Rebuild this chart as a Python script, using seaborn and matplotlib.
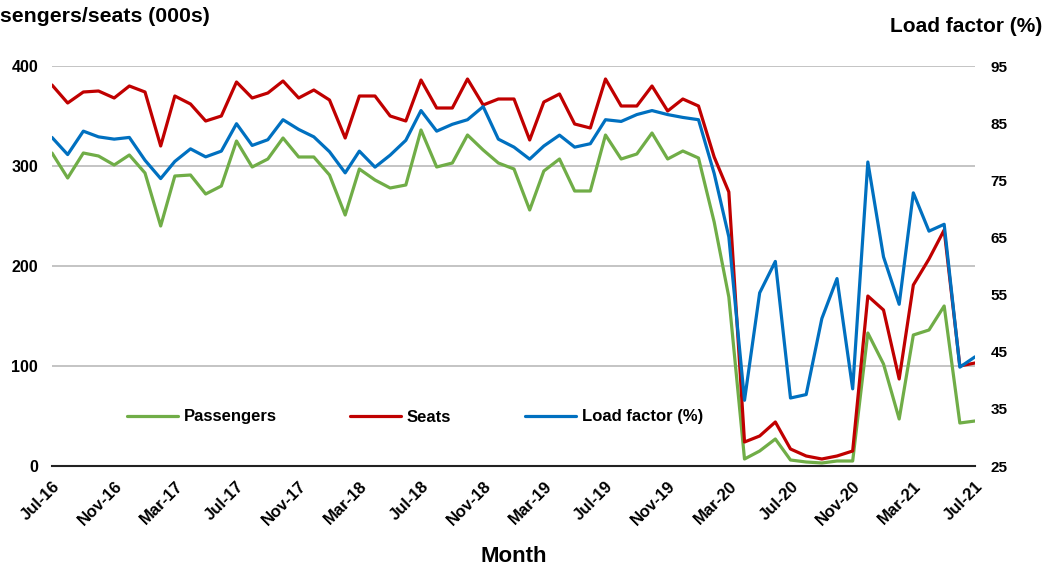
import pandas as pd
import matplotlib
matplotlib.use("Agg")
import matplotlib.pyplot as plt
import matplotlib.dates as mdates
import seaborn as sns

# --- data ---
months = pd.date_range("2016-07-01", "2021-07-01", freq="MS")

passengers = [313, 288, 313, 310, 301, 311, 293, 240, 290, 291, 272, 280,
              325, 299, 307, 328, 309, 309, 291, 251, 297, 286, 278, 281,
              336, 299, 303, 331, 316, 303, 297, 256, 295, 307, 275, 275,
              331, 307, 312, 333, 307, 315, 308, 244, 169, 7, 15, 27,
              6, 4, 3, 5, 5, 133, 102, 47, 131, 136, 160, 43, 45]

seats = [381, 363, 374, 375, 368, 380, 374, 320, 370, 362, 345, 350,
         384, 368, 373, 385, 368, 376, 366, 328, 370, 370, 350, 345,
         386, 358, 358, 387, 361, 367, 367, 326, 364, 372, 342, 338,
         387, 360, 360, 380, 355, 367, 360, 309, 274, 24, 30, 44,
         17, 10, 7, 10, 15, 170, 156, 87, 181, 207, 236, 100, 103]

load_factor = [82.5, 79.5, 83.6, 82.6, 82.2, 82.5, 78.5, 75.3, 78.3, 80.5, 79.1, 80.1,
               84.9, 81.1, 82.1, 85.6, 83.9, 82.6, 80.0, 76.3, 80.1, 77.3, 79.4, 82.0,
               87.2, 83.6, 84.8, 85.6, 87.9, 82.2, 80.8, 78.7, 81.0, 82.9, 80.8, 81.4,
               85.6, 85.3, 86.5, 87.2, 86.5, 86.0, 85.6, 76.2, 65.1, 36.5, 55.3, 60.8,
               36.9, 37.5, 50.8, 57.8, 38.5, 78.2, 61.6, 53.3, 72.8, 66.1, 67.3, 42.3, 44.1]

df = pd.DataFrame({"Month": months, "Passengers": passengers,
                   "Seats": seats, "Load factor (%)": load_factor})

# --- style ---
sns.set_style("white")
plt.rcParams["font.family"] = ["Liberation Sans", "DejaVu Sans"]
plt.rcParams["font.weight"] = "bold"
plt.rcParams["text.color"] = "black"
plt.rcParams["axes.labelcolor"] = "black"
plt.rcParams["xtick.color"] = "black"
plt.rcParams["ytick.color"] = "black"

GREEN = "#70AD47"
RED = "#C00000"
BLUE = "#0070C0"
LW = 2.3

fig = plt.figure(figsize=(10.45, 5.64), dpi=100)
ax = fig.add_axes([52 / 1045, 1 - 466 / 564, 923 / 1045, 400 / 564])
ax2 = ax.twinx()

sns.lineplot(data=df, x="Month", y="Passengers", ax=ax, color=GREEN, lw=LW, label="Passengers")
sns.lineplot(data=df, x="Month", y="Seats", ax=ax, color=RED, lw=LW, label="Seats")
sns.lineplot(data=df, x="Month", y="Load factor (%)", ax=ax2, color=BLUE, lw=LW, label="Load factor (%)")

# left axis
ax.set_ylim(0, 400)
ax.set_yticks([0, 100, 200, 300, 400])
ax.set_xlim(months[0], months[-1])
ax.yaxis.grid(True, color="#BFBFBF", lw=1.3)
ax.set_axisbelow(True)
ax.set_ylabel("")
ax.set_xlabel("Month", fontsize=16, fontweight="bold", labelpad=13, color="black")
ax.tick_params(axis="y", length=0, pad=10, labelsize=11.5, labelcolor="black")
for s in ["left", "right", "top"]:
    ax.spines[s].set_visible(False)
ax.spines["bottom"].set_color("#222222")
ax.spines["bottom"].set_linewidth(1.5)

ax.xaxis.set_major_locator(mdates.MonthLocator(bymonth=[3, 7, 11]))
ax.xaxis.set_major_formatter(mdates.DateFormatter("%b-%y"))
ax.tick_params(axis="x", direction="out", length=5, width=1.3, color="#222222",
               labelsize=12, pad=4, labelcolor="black")
for lab in ax.get_xticklabels():
    lab.set_rotation(45)
    lab.set_ha("right")
    lab.set_rotation_mode("anchor")
    lab.set_fontweight("bold")

# right axis
ax2.set_ylim(25, 95)
ax2.set_yticks(range(25, 96, 10))
ax2.set_ylabel("")
ax2.tick_params(axis="y", length=0, pad=11, labelsize=11, labelcolor="black")
for s in ["left", "right", "top", "bottom"]:
    ax2.spines[s].set_visible(False)
ax2.grid(False)

# legend
h1, l1 = ax.get_legend_handles_labels()
h2, l2 = ax2.get_legend_handles_labels()
if ax.get_legend():
    ax.get_legend().remove()
if ax2.get_legend():
    ax2.get_legend().remove()
leg = ax2.legend(h1 + h2, l1 + l2, loc="center left", bbox_to_anchor=(75 / 923, 0.1225),
                 ncol=3, frameon=False, borderpad=0, borderaxespad=0, handlelength=3.05,
                 handletextpad=0.36, columnspacing=4.4, prop={"size": 12, "weight": "bold"})
for t in leg.get_texts():
    t.set_color("black")

# axis titles (the left one is cut by the figure edge, as in the original)
fig.text(-38 / 1045, 1 - 17 / 564, "Passengers/seats (000s)", ha="left", va="center",
         fontsize=15.3, fontweight="bold", color="black")
fig.text(1042 / 1045, 1 - 26 / 564, "Load factor (%)", ha="right", va="center",
         fontsize=15, fontweight="bold", color="black")

fig.savefig("out.png", dpi=100)
